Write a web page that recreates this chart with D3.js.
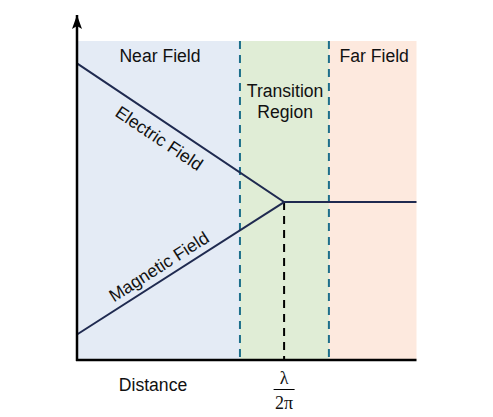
<!DOCTYPE html>
<html>
<head>
<meta charset="utf-8">
<script src="https://cdn.jsdelivr.net/npm/d3@7"></script>
<style>
  body { margin: 0; background: #fff; }
  svg text { font-family: "Liberation Sans", Arial, sans-serif; fill: #111; }
</style>
</head>
<body>
<svg id="chart"></svg>
<script>
// Regions along the distance axis (arbitrary units 0..10)
const regions = [
  {name: "Near Field", lines: ["Near Field"], from: 0, to: 4.8, color: "#e4ebf5"},
  {name: "Transition", lines: ["Transition", "Region"], from: 4.8, to: 7.42, color: "#e0edd6"},
  {name: "Far Field", lines: ["Far Field"], from: 7.42, to: 10, color: "#fde9de"}
];
const boundaries = [4.8, 7.42];
const crossX = 6.1;      // λ/2π
// Field strength curves (x, y)
const electric = [[0, 9.3], [6.1, 4.95], [10, 4.95]];
const magnetic = [[0, 0.8], [6.1, 4.95]];
const curveLabels = [
  {text: "Electric Field", data: electric, at: 2.69, offset: 16.6},
  {text: "Magnetic Field", data: magnetic, at: 2.62, offset: -13}
];

const width = 493, height = 417;
const margin = {top: 41, right: 76.5, bottom: 57, left: 77};
const fontSize = 17.6;

const svg = d3.select("#chart").attr("width", width).attr("height", height);

const x = d3.scaleLinear().domain([0, 10]).range([margin.left, width - margin.right]);
const y = d3.scaleLinear().domain([0, 10]).range([height - margin.bottom, margin.top]);

// background regions
svg.selectAll(".region")
  .data(regions)
  .enter().append("rect")
    .attr("class", "region")
    .attr("x", d => x(d.from))
    .attr("y", y(10))
    .attr("width", d => x(d.to) - x(d.from))
    .attr("height", y(0) - y(10))
    .attr("fill", d => d.color);

// region titles
const titleY = {"Near Field": [61.5], "Transition": [97, 118], "Far Field": [61.5]};
regions.forEach(r => {
  r.lines.forEach((ln, i) => {
    svg.append("text")
      .attr("x", r.name === "Transition" ? x(crossX) + 1 : (x(r.from) + x(r.to)) / 2 + 1.5)
      .attr("y", titleY[r.name][i])
      .attr("text-anchor", "middle")
      .attr("font-size", fontSize)
      .text(ln);
  });
});

// dashed region boundaries
svg.selectAll(".bound")
  .data(boundaries)
  .enter().append("line")
    .attr("x1", d => x(d)).attr("x2", d => x(d))
    .attr("y1", y(10)).attr("y2", y(0))
    .attr("stroke", "#1d6f8b")
    .attr("stroke-width", 2)
    .attr("stroke-dasharray", "8,6");

// black dashed marker at λ/2π
svg.append("line")
  .attr("x1", x(crossX)).attr("x2", x(crossX))
  .attr("y1", y(4.95)).attr("y2", y(0))
  .attr("stroke", "#000")
  .attr("stroke-width", 2)
  .attr("stroke-dasharray", "8,6");

// field lines
const line = d3.line().x(d => x(d[0])).y(d => y(d[1]));
[electric, magnetic].forEach(data => {
  svg.append("path")
    .attr("d", line(data))
    .attr("fill", "none")
    .attr("stroke", "#1f2a50")
    .attr("stroke-width", 2);
});

// rotated labels along the lines
curveLabels.forEach(l => {
  const [p0, p1] = l.data;
  const ang = Math.atan2(y(p1[1]) - y(p0[1]), x(p1[0]) - x(p0[0]));
  const t = (l.at - p0[0]) / (p1[0] - p0[0]);
  const px = x(l.at), py = y(p0[1] + t * (p1[1] - p0[1]));
  const cx = px - Math.sin(ang) * l.offset, cy = py + Math.cos(ang) * l.offset;
  svg.append("text")
    .attr("transform", `translate(${cx},${cy}) rotate(${ang * 180 / Math.PI})`)
    .attr("text-anchor", "middle")
    .attr("dominant-baseline", "central")
    .attr("font-size", fontSize)
    .text(l.text);
});

// axes
svg.append("defs").append("marker")
  .attr("id", "arrow")
  .attr("viewBox", "0 0 10 16")
  .attr("refX", 5).attr("refY", 0)
  .attr("markerWidth", 10).attr("markerHeight", 16)
  .attr("markerUnits", "userSpaceOnUse")
  .attr("orient", "0")
  .append("path")
    .attr("d", "M5,0 L10,14 L5,11 L0,14 Z")
    .attr("fill", "#000");

svg.append("line")
  .attr("x1", x(0)).attr("x2", x(0))
  .attr("y1", y(0) + 1).attr("y2", 15)
  .attr("stroke", "#000").attr("stroke-width", 2.5)
  .attr("marker-end", "url(#arrow)");

svg.append("line")
  .attr("x1", x(0) - 1).attr("x2", x(10))
  .attr("y1", y(0)).attr("y2", y(0))
  .attr("stroke", "#000").attr("stroke-width", 2.5);

// axis labels
svg.append("text")
  .attr("x", 153).attr("y", 390.5)
  .attr("text-anchor", "middle")
  .attr("font-size", fontSize)
  .text("Distance");

const frac = svg.append("g").attr("transform", `translate(${x(crossX)},0)`);
frac.append("text")
  .attr("x", 0).attr("y", 384)
  .attr("text-anchor", "middle")
  .style("font-family", "'Liberation Serif', 'Times New Roman', serif")
  .attr("font-size", 18)
  .text("λ");
frac.append("line")
  .attr("x1", -10.5).attr("x2", 10.5)
  .attr("y1", 389.5).attr("y2", 389.5)
  .attr("stroke", "#000").attr("stroke-width", 1);
frac.append("text")
  .attr("x", 0).attr("y", 409)
  .attr("text-anchor", "middle")
  .style("font-family", "'Liberation Serif', 'Times New Roman', serif")
  .attr("font-size", 18)
  .text("2π");
</script>
</body>
</html>
